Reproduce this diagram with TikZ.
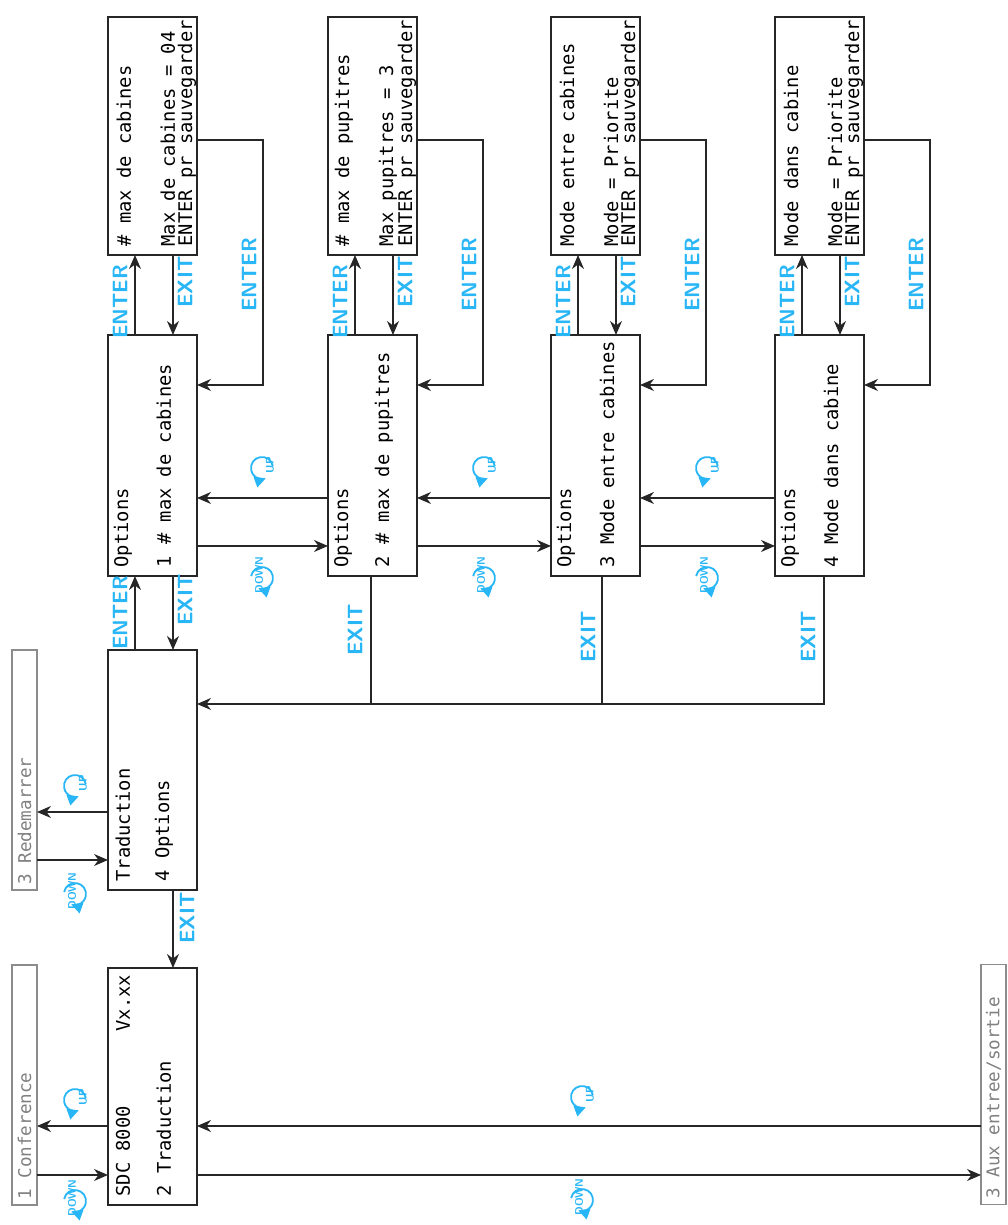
\documentclass[tikz,border=0pt]{standalone}
\usepackage{fontspec}
\newfontfamily\lcd{DejaVu Sans Mono}
\usetikzlibrary{arrows.meta}
\definecolor{keycol}{HTML}{29B6F6}

\tikzset{
	box/.style={draw=black!85, line width=0.6pt, inner sep=0pt, outer sep=0pt},
	greybox/.style={draw=black!45, line width=0.6pt, inner sep=0pt, outer sep=0pt, minimum width=120pt, minimum height=12.5pt},
	txt/.style={anchor=west, inner sep=0pt, font=\lcd\fontsize{9.4}{11}\selectfont},
	greytxt/.style={anchor=west, inner sep=0pt, text=black!50, font=\lcd\fontsize{8.8}{10}\selectfont},
	arr/.style={line width=0.8pt, black!85, -{Stealth[length=7pt,width=6pt]}},
	line/.style={line width=0.8pt, black!85},
	key/.style={text=keycol, inner sep=0pt, font=\sffamily\bfseries\fontsize{10.5}{11}\selectfont},
	pics/upkey/.style={code={
		\draw[keycol, line width=0.9pt, -{Triangle[length=5.5pt,width=5.5pt]}] (-80:11) arc (-80:200:11);
		\node[text=keycol, inner sep=0pt, font=\sffamily\bfseries\fontsize{5.5}{6}\selectfont] (-t) at (3,-8) {UP};
	}},
	pics/downkey/.style={code={
		\draw[keycol, line width=0.9pt, -{Triangle[length=5.5pt,width=5.5pt]}] (80:11) arc (80:-200:11);
		\node[text=keycol, inner sep=0pt, font=\sffamily\bfseries\fontsize{5.5}{6}\selectfont] (-t) at (3,3) {DOWN};
	}},
}

\begin{document}
\begin{tikzpicture}[x=0.5pt, y=0.5pt, rotate=90, transform shape]
	\useasboundingbox (0,0) rectangle (1225,1007);

	% left column
	\node[greybox] (conf) at (140,982.5) {};
	\node[greytxt] (conft) at (25,982.5) {1 Conference};
	\node[greybox] (redem) at (455,982.5) {};
	\node[greytxt] (redemt) at (340,982.5) {3 Redemarrer};
	\node[greybox] (aux) at (140.5,13.5) {};
	\node[greytxt] (auxt) at (26,13.5) {3 Aux entree/sortie};

	\node[box, minimum width=118.5pt, minimum height=44.5pt] (sdc) at (138.5,854.5) {};
	\node[txt] (sdc1) at (28,884) {SDC 8000};
	\node[txt] (sdcv) at (193,884) {Vx.xx};
	\node[txt] (sdc2) at (28,843) {2 Traduction};
	\node[box, minimum width=120pt, minimum height=44.5pt] (trad) at (455,854.5) {};
	\node[txt] (trad1) at (343,884) {Traduction};
	\node[txt] (trad2) at (343,843) {4 Options};

	% option columns
	\foreach \k/\vt/\ta/\tb/\sa in {
		1/899/{1 \# max de cabines}/{\# max de cabines}/{Max de cabines = 04},
		2/679/{2 \# max de pupitres}/{\# max de pupitres}/{Max pupitres = 3},
		3/456/{3 Mode entre cabines}/{Mode entre cabines}/{Mode = Priorite},
		4/232/{4 Mode dans cabine}/{Mode dans cabine}/{Mode = Priorite}}{
		\node[box, minimum width=120.5pt, minimum height=44.5pt] (opt\k) at (769.5,\vt-44.5) {};
		\node[txt] (opt\k a) at (657,\vt-15) {Options};
		\node[txt] (opt\k b) at (657,\vt-56) {\ta};
		\node[box, minimum width=119pt, minimum height=44.5pt] (sub\k) at (1089,\vt-44.5) {};
		\node[txt] (sub\k a) at (978,\vt-16) {\tb};
		\node[txt] (sub\k b) at (978,\vt-60) {\sa};
		\node[txt] (sub\k c) at (978,\vt-79) {ENTER pr sauvegarder};

		\draw[arr] (opt\k.east |- 0,\vt-27) -- (sub\k.west |- 0,\vt-27);
		\draw[arr] (sub\k.west |- 0,\vt-65) -- (opt\k.east |- 0,\vt-65);
		\draw[arr] (1085,0 |- sub\k.south) -- (1085,\vt-155) -- (840,\vt-155) -- (840,0 |- opt\k.south);
		\node[key] (enter\k) at (923,\vt-12) {ENTER};
		\node[key] (exit\k) at (943,\vt-77) {EXIT};
		\node[key] (back\k) at (950,\vt-141) {ENTER};
	}

	% up / down between options
	\draw[arr] (679,0 |- opt1.south) -- (679,0 |- opt2.north);
	\draw[arr] (727,0 |- opt2.north) -- (727,0 |- opt1.south);
	\draw[arr] (679,0 |- opt2.south) -- (679,0 |- opt3.north);
	\draw[arr] (727,0 |- opt3.north) -- (727,0 |- opt2.south);
	\draw[arr] (679,0 |- opt3.south) -- (679,0 |- opt4.north);
	\draw[arr] (727,0 |- opt4.north) -- (727,0 |- opt3.south);
	\pic (up12) at (757,745) {upkey};
	\pic (dn12) at (647,745) {downkey};
	\pic (up23) at (757,523) {upkey};
	\pic (dn23) at (647,523) {downkey};
	\pic (up34) at (757,300) {upkey};
	\pic (dn34) at (647,300) {downkey};

	% exit bus
	\draw[arr] (opt4.west |- 0,183) -| (521,0 |- trad.south);
	\draw[line] (opt3.west |- 0,405) -- (521,405);
	\draw[line] (opt2.west |- 0,636) -- (521,636);
	\node[key] (exitb2) at (595,652) {EXIT};
	\node[key] (exitb3) at (588,419) {EXIT};
	\node[key] (exitb4) at (588,199) {EXIT};

	% traduction
	\draw[arr] (trad.east |- 0,872) -- (opt1.west |- 0,872);
	\draw[arr] (opt1.west |- 0,834) -- (trad.east |- 0,834);
	\node[key] (entert) at (612,887) {ENTER};
	\node[key] (exitt) at (625,822) {EXIT};
	\draw[arr] (trad.west |- 0,834) -- (sdc.east |- 0,834);
	\node[key] (exits) at (307,820) {EXIT};
	\draw[arr] (365,0 |- redem.south) -- (365,0 |- trad.north);
	\draw[arr] (413,0 |- trad.north) -- (413,0 |- redem.south);
	\pic (uptr) at (439,932) {upkey};
	\pic (dntr) at (331,932) {downkey};

	% sdc
	\draw[arr] (50,0 |- conf.south) -- (50,0 |- sdc.north);
	\draw[arr] (99,0 |- sdc.north) -- (99,0 |- conf.south);
	\pic (upcf) at (125,932) {upkey};
	\pic (dncf) at (24,932) {downkey};
	\draw[arr] (50,0 |- sdc.south) -- (50,0 |- aux.north);
	\draw[arr] (99,0 |- aux.north) -- (99,0 |- sdc.south);
	\pic (upax) at (128,425) {upkey};
	\pic (dnax) at (25,425) {downkey};
\end{tikzpicture}
\end{document}
